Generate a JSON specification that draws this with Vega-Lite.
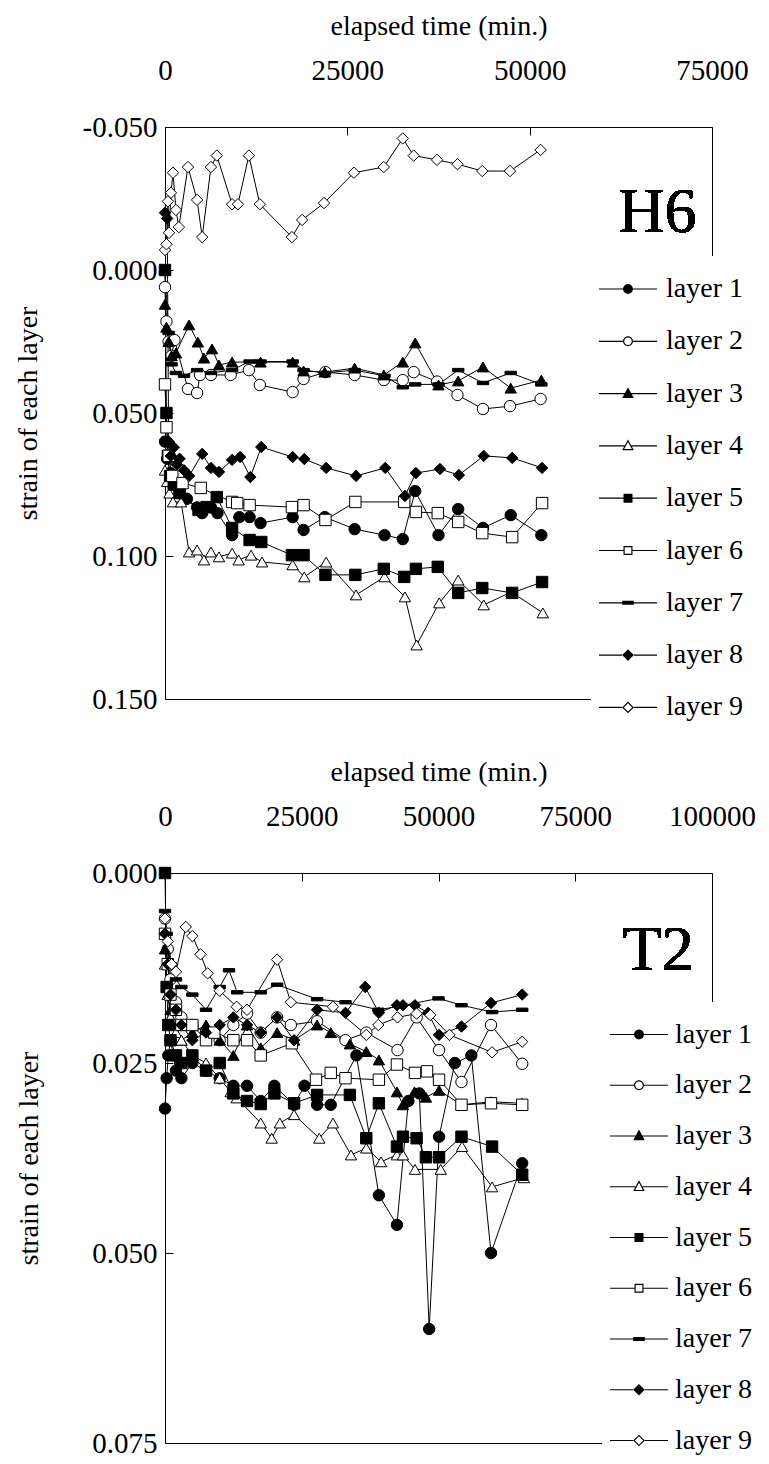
{
  "$schema": "https://vega.github.io/schema/vega-lite/v6.json",
  "background": "white",
  "padding": {"left": 14, "top": 12, "right": 5, "bottom": 5},
  "config": {
    "view": {"stroke": null},
    "font": "Liberation Serif",
    "axis": {"labelFont": "Liberation Serif", "titleFont": "Liberation Serif", "labelColor": "black", "titleColor": "black", "domainColor": "black", "tickColor": "black", "titleFontWeight": "normal", "grid": false, "labelFontSize": 29, "titleFontSize": 28, "domainWidth": 1, "tickWidth": 1},
    "legend": {"labelFont": "Liberation Serif", "labelFontSize": 28, "labelColor": "black"}
  },
  "datasets": {
    "h6": [
      {"layer": "layer 1", "t": 0, "s": 0.060}, {"layer": "layer 1", "t": 300, "s": 0.066}, {"layer": "layer 1", "t": 700, "s": 0.071}, {"layer": "layer 1", "t": 1200, "s": 0.075}, {"layer": "layer 1", "t": 2000, "s": 0.078}, {"layer": "layer 1", "t": 3000, "s": 0.080}, {"layer": "layer 1", "t": 4400, "s": 0.083}, {"layer": "layer 1", "t": 5100, "s": 0.085}, {"layer": "layer 1", "t": 6300, "s": 0.083}, {"layer": "layer 1", "t": 7200, "s": 0.085}, {"layer": "layer 1", "t": 9200, "s": 0.0927}, {"layer": "layer 1", "t": 10200, "s": 0.0864}, {"layer": "layer 1", "t": 11600, "s": 0.0864}, {"layer": "layer 1", "t": 13100, "s": 0.0885}, {"layer": "layer 1", "t": 17500, "s": 0.0864}, {"layer": "layer 1", "t": 19000, "s": 0.0909}, {"layer": "layer 1", "t": 21900, "s": 0.0864}, {"layer": "layer 1", "t": 26000, "s": 0.0906}, {"layer": "layer 1", "t": 30100, "s": 0.0927}, {"layer": "layer 1", "t": 32600, "s": 0.0941}, {"layer": "layer 1", "t": 34300, "s": 0.0773}, {"layer": "layer 1", "t": 37500, "s": 0.0927}, {"layer": "layer 1", "t": 40200, "s": 0.0836}, {"layer": "layer 1", "t": 43600, "s": 0.0902}, {"layer": "layer 1", "t": 47400, "s": 0.0857}, {"layer": "layer 1", "t": 51600, "s": 0.0927},
      {"layer": "layer 2", "t": 0, "s": 0.006}, {"layer": "layer 2", "t": 200, "s": 0.018}, {"layer": "layer 2", "t": 500, "s": 0.025}, {"layer": "layer 2", "t": 900, "s": 0.030}, {"layer": "layer 2", "t": 1300, "s": 0.0245}, {"layer": "layer 2", "t": 3150, "s": 0.0416}, {"layer": "layer 2", "t": 4400, "s": 0.043}, {"layer": "layer 2", "t": 4800, "s": 0.0367}, {"layer": "layer 2", "t": 6300, "s": 0.0367}, {"layer": "layer 2", "t": 9000, "s": 0.0367}, {"layer": "layer 2", "t": 11500, "s": 0.035}, {"layer": "layer 2", "t": 13000, "s": 0.0402}, {"layer": "layer 2", "t": 17500, "s": 0.0427}, {"layer": "layer 2", "t": 19000, "s": 0.0381}, {"layer": "layer 2", "t": 22000, "s": 0.0357}, {"layer": "layer 2", "t": 26000, "s": 0.0367}, {"layer": "layer 2", "t": 30000, "s": 0.0385}, {"layer": "layer 2", "t": 32600, "s": 0.0385}, {"layer": "layer 2", "t": 34100, "s": 0.0357}, {"layer": "layer 2", "t": 37300, "s": 0.039}, {"layer": "layer 2", "t": 40100, "s": 0.0437}, {"layer": "layer 2", "t": 43600, "s": 0.0486}, {"layer": "layer 2", "t": 47300, "s": 0.0476}, {"layer": "layer 2", "t": 51500, "s": 0.0451},
      {"layer": "layer 3", "t": 0, "s": 0.012}, {"layer": "layer 3", "t": 200, "s": 0.020}, {"layer": "layer 3", "t": 500, "s": 0.025}, {"layer": "layer 3", "t": 900, "s": 0.030}, {"layer": "layer 3", "t": 1500, "s": 0.029}, {"layer": "layer 3", "t": 3300, "s": 0.0192}, {"layer": "layer 3", "t": 4500, "s": 0.0252}, {"layer": "layer 3", "t": 5350, "s": 0.0308}, {"layer": "layer 3", "t": 6450, "s": 0.0276}, {"layer": "layer 3", "t": 7400, "s": 0.0332}, {"layer": "layer 3", "t": 9200, "s": 0.0322}, {"layer": "layer 3", "t": 13100, "s": 0.0322}, {"layer": "layer 3", "t": 17500, "s": 0.0322}, {"layer": "layer 3", "t": 19000, "s": 0.0353}, {"layer": "layer 3", "t": 21900, "s": 0.0357}, {"layer": "layer 3", "t": 26000, "s": 0.0343}, {"layer": "layer 3", "t": 30000, "s": 0.0367}, {"layer": "layer 3", "t": 32600, "s": 0.0322}, {"layer": "layer 3", "t": 34300, "s": 0.0255}, {"layer": "layer 3", "t": 37500, "s": 0.0402}, {"layer": "layer 3", "t": 40200, "s": 0.0388}, {"layer": "layer 3", "t": 43600, "s": 0.0339}, {"layer": "layer 3", "t": 47400, "s": 0.0413}, {"layer": "layer 3", "t": 51600, "s": 0.0385},
      {"layer": "layer 4", "t": 0, "s": 0.070}, {"layer": "layer 4", "t": 300, "s": 0.074}, {"layer": "layer 4", "t": 600, "s": 0.078}, {"layer": "layer 4", "t": 1100, "s": 0.0811}, {"layer": "layer 4", "t": 2200, "s": 0.0811}, {"layer": "layer 4", "t": 3300, "s": 0.0986}, {"layer": "layer 4", "t": 4400, "s": 0.0979}, {"layer": "layer 4", "t": 5350, "s": 0.1014}, {"layer": "layer 4", "t": 6300, "s": 0.0986}, {"layer": "layer 4", "t": 7400, "s": 0.1003}, {"layer": "layer 4", "t": 9200, "s": 0.0990}, {"layer": "layer 4", "t": 10100, "s": 0.1014}, {"layer": "layer 4", "t": 11800, "s": 0.0997}, {"layer": "layer 4", "t": 13300, "s": 0.1021}, {"layer": "layer 4", "t": 17500, "s": 0.1031}, {"layer": "layer 4", "t": 19100, "s": 0.1073}, {"layer": "layer 4", "t": 22100, "s": 0.1021}, {"layer": "layer 4", "t": 26200, "s": 0.1136}, {"layer": "layer 4", "t": 30100, "s": 0.1073}, {"layer": "layer 4", "t": 32900, "s": 0.1143}, {"layer": "layer 4", "t": 34500, "s": 0.1311}, {"layer": "layer 4", "t": 37600, "s": 0.1164}, {"layer": "layer 4", "t": 40200, "s": 0.1084}, {"layer": "layer 4", "t": 43700, "s": 0.1171}, {"layer": "layer 4", "t": 47500, "s": 0.1126}, {"layer": "layer 4", "t": 51800, "s": 0.1199},
      {"layer": "layer 5", "t": 0, "s": 0.000}, {"layer": "layer 5", "t": 200, "s": 0.050}, {"layer": "layer 5", "t": 400, "s": 0.065}, {"layer": "layer 5", "t": 700, "s": 0.072}, {"layer": "layer 5", "t": 1200, "s": 0.075}, {"layer": "layer 5", "t": 2000, "s": 0.078}, {"layer": "layer 5", "t": 4600, "s": 0.0839}, {"layer": "layer 5", "t": 5700, "s": 0.0829}, {"layer": "layer 5", "t": 7100, "s": 0.0794}, {"layer": "layer 5", "t": 9200, "s": 0.0902}, {"layer": "layer 5", "t": 11600, "s": 0.0944}, {"layer": "layer 5", "t": 13200, "s": 0.0951}, {"layer": "layer 5", "t": 17400, "s": 0.0997}, {"layer": "layer 5", "t": 19000, "s": 0.0997}, {"layer": "layer 5", "t": 22000, "s": 0.1066}, {"layer": "layer 5", "t": 26100, "s": 0.1066}, {"layer": "layer 5", "t": 30000, "s": 0.1045}, {"layer": "layer 5", "t": 32800, "s": 0.1073}, {"layer": "layer 5", "t": 34400, "s": 0.1045}, {"layer": "layer 5", "t": 37400, "s": 0.1038}, {"layer": "layer 5", "t": 40200, "s": 0.1129}, {"layer": "layer 5", "t": 43500, "s": 0.1112}, {"layer": "layer 5", "t": 47600, "s": 0.1129}, {"layer": "layer 5", "t": 51700, "s": 0.1091},
      {"layer": "layer 6", "t": 0, "s": 0.040}, {"layer": "layer 6", "t": 200, "s": 0.055}, {"layer": "layer 6", "t": 500, "s": 0.065}, {"layer": "layer 6", "t": 1000, "s": 0.072}, {"layer": "layer 6", "t": 2400, "s": 0.0745}, {"layer": "layer 6", "t": 4900, "s": 0.0762}, {"layer": "layer 6", "t": 9200, "s": 0.0811}, {"layer": "layer 6", "t": 9900, "s": 0.0815}, {"layer": "layer 6", "t": 11600, "s": 0.0822}, {"layer": "layer 6", "t": 17400, "s": 0.0829}, {"layer": "layer 6", "t": 19000, "s": 0.0822}, {"layer": "layer 6", "t": 22000, "s": 0.0874}, {"layer": "layer 6", "t": 26100, "s": 0.0811}, {"layer": "layer 6", "t": 32800, "s": 0.0811}, {"layer": "layer 6", "t": 34400, "s": 0.0846}, {"layer": "layer 6", "t": 37400, "s": 0.085}, {"layer": "layer 6", "t": 40200, "s": 0.0881}, {"layer": "layer 6", "t": 43500, "s": 0.092}, {"layer": "layer 6", "t": 47600, "s": 0.0934}, {"layer": "layer 6", "t": 51700, "s": 0.0815},
      {"layer": "layer 7", "t": 0, "s": 0.001}, {"layer": "layer 7", "t": 500, "s": 0.022}, {"layer": "layer 7", "t": 900, "s": 0.033}, {"layer": "layer 7", "t": 1500, "s": 0.036}, {"layer": "layer 7", "t": 2600, "s": 0.037}, {"layer": "layer 7", "t": 4400, "s": 0.035}, {"layer": "layer 7", "t": 6300, "s": 0.036}, {"layer": "layer 7", "t": 9200, "s": 0.035}, {"layer": "layer 7", "t": 11600, "s": 0.032}, {"layer": "layer 7", "t": 13100, "s": 0.032}, {"layer": "layer 7", "t": 17500, "s": 0.032}, {"layer": "layer 7", "t": 19000, "s": 0.035}, {"layer": "layer 7", "t": 21900, "s": 0.036}, {"layer": "layer 7", "t": 26000, "s": 0.035}, {"layer": "layer 7", "t": 30100, "s": 0.037}, {"layer": "layer 7", "t": 32600, "s": 0.041}, {"layer": "layer 7", "t": 34300, "s": 0.040}, {"layer": "layer 7", "t": 37500, "s": 0.040}, {"layer": "layer 7", "t": 40200, "s": 0.035}, {"layer": "layer 7", "t": 43600, "s": 0.0395}, {"layer": "layer 7", "t": 47400, "s": 0.036}, {"layer": "layer 7", "t": 51600, "s": 0.040},
      {"layer": "layer 8", "t": 0, "s": -0.020}, {"layer": "layer 8", "t": 300, "s": -0.018}, {"layer": "layer 8", "t": 500, "s": 0.060}, {"layer": "layer 8", "t": 800, "s": 0.065}, {"layer": "layer 8", "t": 1200, "s": 0.062}, {"layer": "layer 8", "t": 1600, "s": 0.068}, {"layer": "layer 8", "t": 2000, "s": 0.066}, {"layer": "layer 8", "t": 2600, "s": 0.070}, {"layer": "layer 8", "t": 3300, "s": 0.072}, {"layer": "layer 8", "t": 5100, "s": 0.0643}, {"layer": "layer 8", "t": 6300, "s": 0.0692}, {"layer": "layer 8", "t": 7400, "s": 0.0706}, {"layer": "layer 8", "t": 9200, "s": 0.0664}, {"layer": "layer 8", "t": 10300, "s": 0.0654}, {"layer": "layer 8", "t": 11700, "s": 0.0724}, {"layer": "layer 8", "t": 13200, "s": 0.0619}, {"layer": "layer 8", "t": 17500, "s": 0.0654}, {"layer": "layer 8", "t": 19100, "s": 0.0661}, {"layer": "layer 8", "t": 22100, "s": 0.0692}, {"layer": "layer 8", "t": 26200, "s": 0.072}, {"layer": "layer 8", "t": 30200, "s": 0.0692}, {"layer": "layer 8", "t": 32900, "s": 0.079}, {"layer": "layer 8", "t": 34400, "s": 0.071}, {"layer": "layer 8", "t": 37700, "s": 0.0696}, {"layer": "layer 8", "t": 40300, "s": 0.0717}, {"layer": "layer 8", "t": 43700, "s": 0.065}, {"layer": "layer 8", "t": 47600, "s": 0.0657}, {"layer": "layer 8", "t": 51700, "s": 0.0692},
      {"layer": "layer 9", "t": 0, "s": -0.007}, {"layer": "layer 9", "t": 200, "s": -0.009}, {"layer": "layer 9", "t": 400, "s": -0.024}, {"layer": "layer 9", "t": 550, "s": -0.013}, {"layer": "layer 9", "t": 820, "s": -0.027}, {"layer": "layer 9", "t": 1100, "s": -0.034}, {"layer": "layer 9", "t": 1500, "s": -0.021}, {"layer": "layer 9", "t": 1900, "s": -0.015}, {"layer": "layer 9", "t": 3150, "s": -0.036}, {"layer": "layer 9", "t": 4400, "s": -0.0245}, {"layer": "layer 9", "t": 5100, "s": -0.0115}, {"layer": "layer 9", "t": 6300, "s": -0.036}, {"layer": "layer 9", "t": 7100, "s": -0.040}, {"layer": "layer 9", "t": 9200, "s": -0.023}, {"layer": "layer 9", "t": 10000, "s": -0.023}, {"layer": "layer 9", "t": 11500, "s": -0.040}, {"layer": "layer 9", "t": 13000, "s": -0.023}, {"layer": "layer 9", "t": 17400, "s": -0.0115}, {"layer": "layer 9", "t": 18800, "s": -0.0175}, {"layer": "layer 9", "t": 21800, "s": -0.0234}, {"layer": "layer 9", "t": 25900, "s": -0.034}, {"layer": "layer 9", "t": 30000, "s": -0.036}, {"layer": "layer 9", "t": 32600, "s": -0.046}, {"layer": "layer 9", "t": 34100, "s": -0.040}, {"layer": "layer 9", "t": 37300, "s": -0.0385}, {"layer": "layer 9", "t": 40100, "s": -0.037}, {"layer": "layer 9", "t": 43500, "s": -0.0346}, {"layer": "layer 9", "t": 47300, "s": -0.0346}, {"layer": "layer 9", "t": 51500, "s": -0.042}
    ],
    "t2": [
      {"layer": "layer 1", "t": 0, "s": 0.031}, {"layer": "layer 1", "t": 300, "s": 0.027}, {"layer": "layer 1", "t": 600, "s": 0.024}, {"layer": "layer 1", "t": 1000, "s": 0.022}, {"layer": "layer 1", "t": 2000, "s": 0.026}, {"layer": "layer 1", "t": 3000, "s": 0.027}, {"layer": "layer 1", "t": 5000, "s": 0.025}, {"layer": "layer 1", "t": 7500, "s": 0.026}, {"layer": "layer 1", "t": 10000, "s": 0.027}, {"layer": "layer 1", "t": 12500, "s": 0.028}, {"layer": "layer 1", "t": 15000, "s": 0.028}, {"layer": "layer 1", "t": 17500, "s": 0.030}, {"layer": "layer 1", "t": 20000, "s": 0.028}, {"layer": "layer 1", "t": 23600, "s": 0.0305}, {"layer": "layer 1", "t": 25500, "s": 0.028}, {"layer": "layer 1", "t": 27800, "s": 0.0305}, {"layer": "layer 1", "t": 30300, "s": 0.0305}, {"layer": "layer 1", "t": 35000, "s": 0.024}, {"layer": "layer 1", "t": 39100, "s": 0.0424}, {"layer": "layer 1", "t": 42400, "s": 0.0463}, {"layer": "layer 1", "t": 44500, "s": 0.030}, {"layer": "layer 1", "t": 46500, "s": 0.029}, {"layer": "layer 1", "t": 48300, "s": 0.0600}, {"layer": "layer 1", "t": 50100, "s": 0.0347}, {"layer": "layer 1", "t": 53000, "s": 0.025}, {"layer": "layer 1", "t": 56000, "s": 0.024}, {"layer": "layer 1", "t": 59600, "s": 0.050}, {"layer": "layer 1", "t": 65300, "s": 0.0382},
      {"layer": "layer 2", "t": 0, "s": 0.006}, {"layer": "layer 2", "t": 500, "s": 0.010}, {"layer": "layer 2", "t": 1000, "s": 0.014}, {"layer": "layer 2", "t": 2000, "s": 0.017}, {"layer": "layer 2", "t": 3000, "s": 0.019}, {"layer": "layer 2", "t": 5000, "s": 0.020}, {"layer": "layer 2", "t": 7500, "s": 0.021}, {"layer": "layer 2", "t": 10000, "s": 0.022}, {"layer": "layer 2", "t": 12500, "s": 0.020}, {"layer": "layer 2", "t": 15000, "s": 0.0185}, {"layer": "layer 2", "t": 17500, "s": 0.021}, {"layer": "layer 2", "t": 20500, "s": 0.019}, {"layer": "layer 2", "t": 23000, "s": 0.020}, {"layer": "layer 2", "t": 27800, "s": 0.0195}, {"layer": "layer 2", "t": 33000, "s": 0.022}, {"layer": "layer 2", "t": 36800, "s": 0.021}, {"layer": "layer 2", "t": 42500, "s": 0.0233}, {"layer": "layer 2", "t": 46000, "s": 0.019}, {"layer": "layer 2", "t": 50100, "s": 0.0233}, {"layer": "layer 2", "t": 54200, "s": 0.0275}, {"layer": "layer 2", "t": 59600, "s": 0.020}, {"layer": "layer 2", "t": 65300, "s": 0.0251},
      {"layer": "layer 3", "t": 0, "s": 0.010}, {"layer": "layer 3", "t": 500, "s": 0.016}, {"layer": "layer 3", "t": 1000, "s": 0.018}, {"layer": "layer 3", "t": 2000, "s": 0.020}, {"layer": "layer 3", "t": 3000, "s": 0.022}, {"layer": "layer 3", "t": 5000, "s": 0.021}, {"layer": "layer 3", "t": 7500, "s": 0.020}, {"layer": "layer 3", "t": 10000, "s": 0.022}, {"layer": "layer 3", "t": 12500, "s": 0.024}, {"layer": "layer 3", "t": 15000, "s": 0.020}, {"layer": "layer 3", "t": 17500, "s": 0.023}, {"layer": "layer 3", "t": 20500, "s": 0.021}, {"layer": "layer 3", "t": 23600, "s": 0.022}, {"layer": "layer 3", "t": 27800, "s": 0.020}, {"layer": "layer 3", "t": 30300, "s": 0.021}, {"layer": "layer 3", "t": 33800, "s": 0.0225}, {"layer": "layer 3", "t": 36800, "s": 0.0235}, {"layer": "layer 3", "t": 39100, "s": 0.0246}, {"layer": "layer 3", "t": 42400, "s": 0.0288}, {"layer": "layer 3", "t": 43500, "s": 0.0305}, {"layer": "layer 3", "t": 45600, "s": 0.0288}, {"layer": "layer 3", "t": 47700, "s": 0.0295}, {"layer": "layer 3", "t": 50100, "s": 0.0286}, {"layer": "layer 3", "t": 54200, "s": 0.0305}, {"layer": "layer 3", "t": 59600, "s": 0.0301}, {"layer": "layer 3", "t": 65300, "s": 0.0303},
      {"layer": "layer 4", "t": 0, "s": 0.012}, {"layer": "layer 4", "t": 500, "s": 0.016}, {"layer": "layer 4", "t": 1000, "s": 0.019}, {"layer": "layer 4", "t": 2000, "s": 0.021}, {"layer": "layer 4", "t": 3000, "s": 0.022}, {"layer": "layer 4", "t": 5000, "s": 0.024}, {"layer": "layer 4", "t": 7500, "s": 0.025}, {"layer": "layer 4", "t": 10000, "s": 0.027}, {"layer": "layer 4", "t": 12000, "s": 0.0288}, {"layer": "layer 4", "t": 13100, "s": 0.0296}, {"layer": "layer 4", "t": 17500, "s": 0.0329}, {"layer": "layer 4", "t": 19500, "s": 0.0349}, {"layer": "layer 4", "t": 21000, "s": 0.0329}, {"layer": "layer 4", "t": 23600, "s": 0.0318}, {"layer": "layer 4", "t": 28200, "s": 0.0349}, {"layer": "layer 4", "t": 30700, "s": 0.0329}, {"layer": "layer 4", "t": 34000, "s": 0.0371}, {"layer": "layer 4", "t": 36800, "s": 0.0362}, {"layer": "layer 4", "t": 39500, "s": 0.038}, {"layer": "layer 4", "t": 42400, "s": 0.0371}, {"layer": "layer 4", "t": 43500, "s": 0.0371}, {"layer": "layer 4", "t": 45700, "s": 0.039}, {"layer": "layer 4", "t": 50400, "s": 0.039}, {"layer": "layer 4", "t": 54300, "s": 0.036}, {"layer": "layer 4", "t": 59800, "s": 0.0413}, {"layer": "layer 4", "t": 65600, "s": 0.0401},
      {"layer": "layer 5", "t": 0, "s": 0.000}, {"layer": "layer 5", "t": 300, "s": 0.015}, {"layer": "layer 5", "t": 600, "s": 0.020}, {"layer": "layer 5", "t": 1000, "s": 0.022}, {"layer": "layer 5", "t": 2000, "s": 0.024}, {"layer": "layer 5", "t": 3000, "s": 0.025}, {"layer": "layer 5", "t": 5000, "s": 0.024}, {"layer": "layer 5", "t": 7500, "s": 0.026}, {"layer": "layer 5", "t": 10000, "s": 0.025}, {"layer": "layer 5", "t": 12500, "s": 0.029}, {"layer": "layer 5", "t": 15000, "s": 0.030}, {"layer": "layer 5", "t": 17500, "s": 0.0304}, {"layer": "layer 5", "t": 20000, "s": 0.029}, {"layer": "layer 5", "t": 23600, "s": 0.0303}, {"layer": "layer 5", "t": 27800, "s": 0.0292}, {"layer": "layer 5", "t": 33800, "s": 0.0292}, {"layer": "layer 5", "t": 36800, "s": 0.0349}, {"layer": "layer 5", "t": 39100, "s": 0.0303}, {"layer": "layer 5", "t": 42400, "s": 0.036}, {"layer": "layer 5", "t": 43500, "s": 0.0347}, {"layer": "layer 5", "t": 46000, "s": 0.0349}, {"layer": "layer 5", "t": 47700, "s": 0.0374}, {"layer": "layer 5", "t": 50100, "s": 0.0374}, {"layer": "layer 5", "t": 54200, "s": 0.0347}, {"layer": "layer 5", "t": 59800, "s": 0.036}, {"layer": "layer 5", "t": 65300, "s": 0.0397},
      {"layer": "layer 6", "t": 0, "s": 0.008}, {"layer": "layer 6", "t": 500, "s": 0.012}, {"layer": "layer 6", "t": 1000, "s": 0.016}, {"layer": "layer 6", "t": 2000, "s": 0.018}, {"layer": "layer 6", "t": 3000, "s": 0.020}, {"layer": "layer 6", "t": 5000, "s": 0.020}, {"layer": "layer 6", "t": 7500, "s": 0.022}, {"layer": "layer 6", "t": 9000, "s": 0.021}, {"layer": "layer 6", "t": 12500, "s": 0.022}, {"layer": "layer 6", "t": 15000, "s": 0.022}, {"layer": "layer 6", "t": 17500, "s": 0.024}, {"layer": "layer 6", "t": 23200, "s": 0.0224}, {"layer": "layer 6", "t": 27600, "s": 0.0272}, {"layer": "layer 6", "t": 30300, "s": 0.0263}, {"layer": "layer 6", "t": 33000, "s": 0.027}, {"layer": "layer 6", "t": 39100, "s": 0.0272}, {"layer": "layer 6", "t": 42400, "s": 0.0252}, {"layer": "layer 6", "t": 45700, "s": 0.0263}, {"layer": "layer 6", "t": 47900, "s": 0.0261}, {"layer": "layer 6", "t": 50100, "s": 0.0272}, {"layer": "layer 6", "t": 54200, "s": 0.0305}, {"layer": "layer 6", "t": 59600, "s": 0.0303}, {"layer": "layer 6", "t": 65300, "s": 0.0305},
      {"layer": "layer 7", "t": 0, "s": 0.005}, {"layer": "layer 7", "t": 300, "s": 0.008}, {"layer": "layer 7", "t": 1000, "s": 0.012}, {"layer": "layer 7", "t": 2000, "s": 0.014}, {"layer": "layer 7", "t": 3000, "s": 0.015}, {"layer": "layer 7", "t": 5000, "s": 0.016}, {"layer": "layer 7", "t": 7500, "s": 0.018}, {"layer": "layer 7", "t": 10000, "s": 0.015}, {"layer": "layer 7", "t": 11700, "s": 0.0128}, {"layer": "layer 7", "t": 13200, "s": 0.0157}, {"layer": "layer 7", "t": 17500, "s": 0.0157}, {"layer": "layer 7", "t": 20500, "s": 0.0147}, {"layer": "layer 7", "t": 27800, "s": 0.0166}, {"layer": "layer 7", "t": 33000, "s": 0.017}, {"layer": "layer 7", "t": 39000, "s": 0.018}, {"layer": "layer 7", "t": 43000, "s": 0.0175}, {"layer": "layer 7", "t": 50000, "s": 0.0165}, {"layer": "layer 7", "t": 54200, "s": 0.0174}, {"layer": "layer 7", "t": 59800, "s": 0.0183}, {"layer": "layer 7", "t": 65300, "s": 0.018},
      {"layer": "layer 8", "t": 0, "s": 0.008}, {"layer": "layer 8", "t": 500, "s": 0.012}, {"layer": "layer 8", "t": 1000, "s": 0.016}, {"layer": "layer 8", "t": 2000, "s": 0.018}, {"layer": "layer 8", "t": 3000, "s": 0.020}, {"layer": "layer 8", "t": 5000, "s": 0.022}, {"layer": "layer 8", "t": 7500, "s": 0.021}, {"layer": "layer 8", "t": 10000, "s": 0.020}, {"layer": "layer 8", "t": 12500, "s": 0.019}, {"layer": "layer 8", "t": 15000, "s": 0.020}, {"layer": "layer 8", "t": 17500, "s": 0.021}, {"layer": "layer 8", "t": 20500, "s": 0.019}, {"layer": "layer 8", "t": 23600, "s": 0.022}, {"layer": "layer 8", "t": 27800, "s": 0.018}, {"layer": "layer 8", "t": 33000, "s": 0.0184}, {"layer": "layer 8", "t": 36600, "s": 0.015}, {"layer": "layer 8", "t": 39100, "s": 0.0184}, {"layer": "layer 8", "t": 42400, "s": 0.0174}, {"layer": "layer 8", "t": 43500, "s": 0.0174}, {"layer": "layer 8", "t": 45700, "s": 0.0174}, {"layer": "layer 8", "t": 48100, "s": 0.0184}, {"layer": "layer 8", "t": 50100, "s": 0.0213}, {"layer": "layer 8", "t": 54200, "s": 0.0202}, {"layer": "layer 8", "t": 59600, "s": 0.0171}, {"layer": "layer 8", "t": 65300, "s": 0.016},
      {"layer": "layer 9", "t": 0, "s": 0.006}, {"layer": "layer 9", "t": 500, "s": 0.009}, {"layer": "layer 9", "t": 1200, "s": 0.012}, {"layer": "layer 9", "t": 2000, "s": 0.013}, {"layer": "layer 9", "t": 3800, "s": 0.0071}, {"layer": "layer 9", "t": 5000, "s": 0.0083}, {"layer": "layer 9", "t": 6500, "s": 0.0107}, {"layer": "layer 9", "t": 7800, "s": 0.0132}, {"layer": "layer 9", "t": 10000, "s": 0.0155}, {"layer": "layer 9", "t": 13100, "s": 0.0176}, {"layer": "layer 9", "t": 15000, "s": 0.018}, {"layer": "layer 9", "t": 20500, "s": 0.0114}, {"layer": "layer 9", "t": 23000, "s": 0.017}, {"layer": "layer 9", "t": 30700, "s": 0.0176}, {"layer": "layer 9", "t": 36800, "s": 0.0213}, {"layer": "layer 9", "t": 39000, "s": 0.020}, {"layer": "layer 9", "t": 42500, "s": 0.019}, {"layer": "layer 9", "t": 46000, "s": 0.0185}, {"layer": "layer 9", "t": 48500, "s": 0.0187}, {"layer": "layer 9", "t": 52000, "s": 0.0213}, {"layer": "layer 9", "t": 59800, "s": 0.0236}, {"layer": "layer 9", "t": 65300, "s": 0.0222}
    ]
  },
  "bounds": "flush",
  "spacing": 174,
  "resolve": {"scale": {"x": "independent", "y": "independent", "shape": "independent", "fill": "independent"}, "legend": {"shape": "independent", "fill": "independent"}},
  "vconcat": [
    {
      "width": 547, "height": 572,
      "data": {"name": "h6"},
      "layer": [
        {
          "mark": {"type": "line", "color": "black", "strokeWidth": 1},
          "encoding": {
            "x": {"field": "t", "type": "quantitative", "scale": {"domain": [0, 75000], "nice": false, "zero": false}, "axis": {"orient": "top", "values": [0, 25000, 50000, 75000], "format": "d", "title": "elapsed time (min.)", "tickSize": -8, "labelPadding": 50, "titlePadding": 16, "labelFlush": false, "labelOverlap": false}},
            "y": {"field": "s", "type": "quantitative", "scale": {"domain": [-0.05, 0.15], "reverse": true, "nice": false, "zero": false}, "axis": {"orient": "left", "values": [-0.05, 0, 0.05, 0.1, 0.15], "labelExpr": "replace(format(datum.value, '.3f'), '\u2212', '-')", "title": "strain of each layer", "tickSize": -8, "labelPadding": 16, "titlePadding": 40, "labelFlush": false, "labelOverlap": false}},
            "detail": {"field": "layer"}
          }
        },
        {
          "mark": {"type": "point", "opacity": 1, "stroke": "black", "strokeWidth": 1, "size": 130},
          "encoding": {
            "x": {"field": "t", "type": "quantitative", "scale": {"domain": [0, 75000], "nice": false, "zero": false}, "axis": {"orient": "bottom", "labels": false, "ticks": false, "title": null}},
            "y": {"field": "s", "type": "quantitative", "scale": {"domain": [-0.05, 0.15], "reverse": true, "nice": false, "zero": false}, "axis": {"orient": "right", "labels": false, "ticks": false, "title": null}},
            "shape": {"field": "layer", "type": "nominal", "scale": {"domain": ["layer 1", "layer 2", "layer 3", "layer 4", "layer 5", "layer 6", "layer 7", "layer 8", "layer 9"], "range": ["circle", "circle", "triangle-up", "triangle-up", "square", "square", "M-1,-0.3H1V0.3H-1Z", "diamond", "diamond"]}, "legend": null},
            "fill": {"field": "layer", "type": "nominal", "scale": {"domain": ["layer 1", "layer 2", "layer 3", "layer 4", "layer 5", "layer 6", "layer 7", "layer 8", "layer 9"], "range": ["black", "white", "black", "white", "black", "white", "black", "black", "white"]}, "legend": null}
          }
        },
        {
          "transform": [{"filter": "false"}],
          "mark": {"type": "point", "opacity": 1, "filled": true, "color": "black"},
          "encoding": {
            "shape": {"field": "layer", "type": "nominal", "scale": {"domain": ["layer 1", "layer 2", "layer 3", "layer 4", "layer 5", "layer 6", "layer 7", "layer 8", "layer 9"], "range": [
              "M-1,-0.02H-0.17V0.02H-1ZM0.17,-0.02H1V0.02H0.17ZM0.17,0A0.17,0.17,0,1,1,-0.17,0A0.17,0.17,0,1,1,0.17,0Z",
              "M-1,-0.02H-0.17V0.02H-1ZM0.17,-0.02H1V0.02H0.17ZM0.17,0A0.17,0.17,0,1,1,-0.17,0A0.17,0.17,0,1,1,0.17,0ZM0.13,0A0.13,0.13,0,1,0,-0.13,0A0.13,0.13,0,1,0,0.13,0Z",
              "M-1,-0.02H-0.11V0.02H-1ZM0.11,-0.02H1V0.02H0.11ZM0,-0.22L0.2,0.15L-0.2,0.15Z",
              "M-1,-0.02H-0.119V0.02H-1ZM0.119,-0.02H1V0.02H0.119ZM0,-0.22L0.2,0.15L-0.2,0.15ZM0,-0.136L-0.133,0.11L0.133,0.11Z",
              "M-1,-0.02H-0.155V0.02H-1ZM0.155,-0.02H1V0.02H0.155ZM-0.155,-0.155H0.155V0.155H-0.155Z",
              "M-1,-0.02H-0.155V0.02H-1ZM0.155,-0.02H1V0.02H0.155ZM-0.155,-0.155H0.155V0.155H-0.155ZM-0.115,-0.115V0.115H0.115V-0.115Z",
              "M-1,-0.02H1V0.02H-1ZM-0.2,-0.07H0.2V0.07H-0.2Z",
              "M-1,-0.02H-0.2V0.02H-1ZM0.2,-0.02H1V0.02H0.2ZM0,-0.2L0.2,0L0,0.2L-0.2,0Z",
              "M-1,-0.02H-0.2V0.02H-1ZM0.2,-0.02H1V0.02H0.2ZM0,-0.2L0.2,0L0,0.2L-0.2,0ZM0,-0.143L-0.143,0L0,0.143L0.143,0Z"]},
              "legend": {"orient": "none", "legendX": 426, "legendY": 129, "title": null, "fillColor": "white", "padding": 8, "symbolSize": 3364, "clipHeight": 50, "rowPadding": 2.3, "labelOffset": 9, "labelFontSize": 28, "symbolFillColor": "black", "symbolStrokeWidth": 0, "symbolOpacity": 1}}
          }
        },
        {
          "mark": {"type": "text", "text": "H6", "font": "Liberation Serif", "fontSize": 64, "align": "center", "baseline": "alphabetic", "color": "black"},
          "encoding": {
            "x": {"datum": 67500, "type": "quantitative", "axis": null},
            "y": {"datum": -0.0133, "type": "quantitative", "axis": null}
          }
        }
      ],
      "resolve": {"scale": {"shape": "independent", "fill": "independent"}, "axis": {"x": "independent", "y": "independent"}}
    },
    {
      "width": 547, "height": 570,
      "data": {"name": "t2"},
      "layer": [
        {
          "mark": {"type": "line", "color": "black", "strokeWidth": 1},
          "encoding": {
            "x": {"field": "t", "type": "quantitative", "scale": {"domain": [0, 100000], "nice": false, "zero": false}, "axis": {"orient": "top", "values": [0, 25000, 50000, 75000, 100000], "format": "d", "title": "elapsed time (min.)", "tickSize": -8, "labelPadding": 50, "titlePadding": 16, "labelFlush": false, "labelOverlap": false}},
            "y": {"field": "s", "type": "quantitative", "scale": {"domain": [0, 0.075], "reverse": true, "nice": false, "zero": false}, "axis": {"orient": "left", "values": [0, 0.025, 0.05, 0.075], "format": ".3f", "title": "strain of each layer", "tickSize": -8, "labelPadding": 16, "titlePadding": 48, "labelFlush": false, "labelOverlap": false}},
            "detail": {"field": "layer"}
          }
        },
        {
          "mark": {"type": "point", "opacity": 1, "stroke": "black", "strokeWidth": 1, "size": 130},
          "encoding": {
            "x": {"field": "t", "type": "quantitative", "scale": {"domain": [0, 100000], "nice": false, "zero": false}, "axis": {"orient": "bottom", "labels": false, "ticks": false, "title": null}},
            "y": {"field": "s", "type": "quantitative", "scale": {"domain": [0, 0.075], "reverse": true, "nice": false, "zero": false}, "axis": {"orient": "right", "labels": false, "ticks": false, "title": null}},
            "shape": {"field": "layer", "type": "nominal", "scale": {"domain": ["layer 1", "layer 2", "layer 3", "layer 4", "layer 5", "layer 6", "layer 7", "layer 8", "layer 9"], "range": ["circle", "circle", "triangle-up", "triangle-up", "square", "square", "M-1,-0.3H1V0.3H-1Z", "diamond", "diamond"]}, "legend": null},
            "fill": {"field": "layer", "type": "nominal", "scale": {"domain": ["layer 1", "layer 2", "layer 3", "layer 4", "layer 5", "layer 6", "layer 7", "layer 8", "layer 9"], "range": ["black", "white", "black", "white", "black", "white", "black", "black", "white"]}, "legend": null}
          }
        },
        {
          "transform": [{"filter": "false"}],
          "mark": {"type": "point", "opacity": 1, "filled": true, "color": "black"},
          "encoding": {
            "shape": {"field": "layer", "type": "nominal", "scale": {"domain": ["layer 1", "layer 2", "layer 3", "layer 4", "layer 5", "layer 6", "layer 7", "layer 8", "layer 9"], "range": [
              "M-1,-0.02H-0.17V0.02H-1ZM0.17,-0.02H1V0.02H0.17ZM0.17,0A0.17,0.17,0,1,1,-0.17,0A0.17,0.17,0,1,1,0.17,0Z",
              "M-1,-0.02H-0.17V0.02H-1ZM0.17,-0.02H1V0.02H0.17ZM0.17,0A0.17,0.17,0,1,1,-0.17,0A0.17,0.17,0,1,1,0.17,0ZM0.13,0A0.13,0.13,0,1,0,-0.13,0A0.13,0.13,0,1,0,0.13,0Z",
              "M-1,-0.02H-0.11V0.02H-1ZM0.11,-0.02H1V0.02H0.11ZM0,-0.22L0.2,0.15L-0.2,0.15Z",
              "M-1,-0.02H-0.119V0.02H-1ZM0.119,-0.02H1V0.02H0.119ZM0,-0.22L0.2,0.15L-0.2,0.15ZM0,-0.136L-0.133,0.11L0.133,0.11Z",
              "M-1,-0.02H-0.155V0.02H-1ZM0.155,-0.02H1V0.02H0.155ZM-0.155,-0.155H0.155V0.155H-0.155Z",
              "M-1,-0.02H-0.155V0.02H-1ZM0.155,-0.02H1V0.02H0.155ZM-0.155,-0.155H0.155V0.155H-0.155ZM-0.115,-0.115V0.115H0.115V-0.115Z",
              "M-1,-0.02H1V0.02H-1ZM-0.2,-0.07H0.2V0.07H-0.2Z",
              "M-1,-0.02H-0.2V0.02H-1ZM0.2,-0.02H1V0.02H0.2ZM0,-0.2L0.2,0L0,0.2L-0.2,0Z",
              "M-1,-0.02H-0.2V0.02H-1ZM0.2,-0.02H1V0.02H0.2ZM0,-0.2L0.2,0L0,0.2L-0.2,0ZM0,-0.143L-0.143,0L0,0.143L0.143,0Z"]},
              "legend": {"orient": "none", "legendX": 437, "legendY": 129, "title": null, "fillColor": "white", "padding": 8, "symbolSize": 3364, "clipHeight": 49, "rowPadding": 1.75, "labelOffset": 7, "labelFontSize": 28, "symbolFillColor": "black", "symbolStrokeWidth": 0, "symbolOpacity": 1}}
          }
        },
        {
          "mark": {"type": "text", "text": "T2", "font": "Liberation Serif", "fontSize": 64, "align": "center", "baseline": "alphabetic", "color": "black"},
          "encoding": {
            "x": {"datum": 90150, "type": "quantitative", "axis": null},
            "y": {"datum": 0.01276, "type": "quantitative", "axis": null}
          }
        }
      ],
      "resolve": {"scale": {"shape": "independent", "fill": "independent"}, "axis": {"x": "independent", "y": "independent"}}
    }
  ]
}
